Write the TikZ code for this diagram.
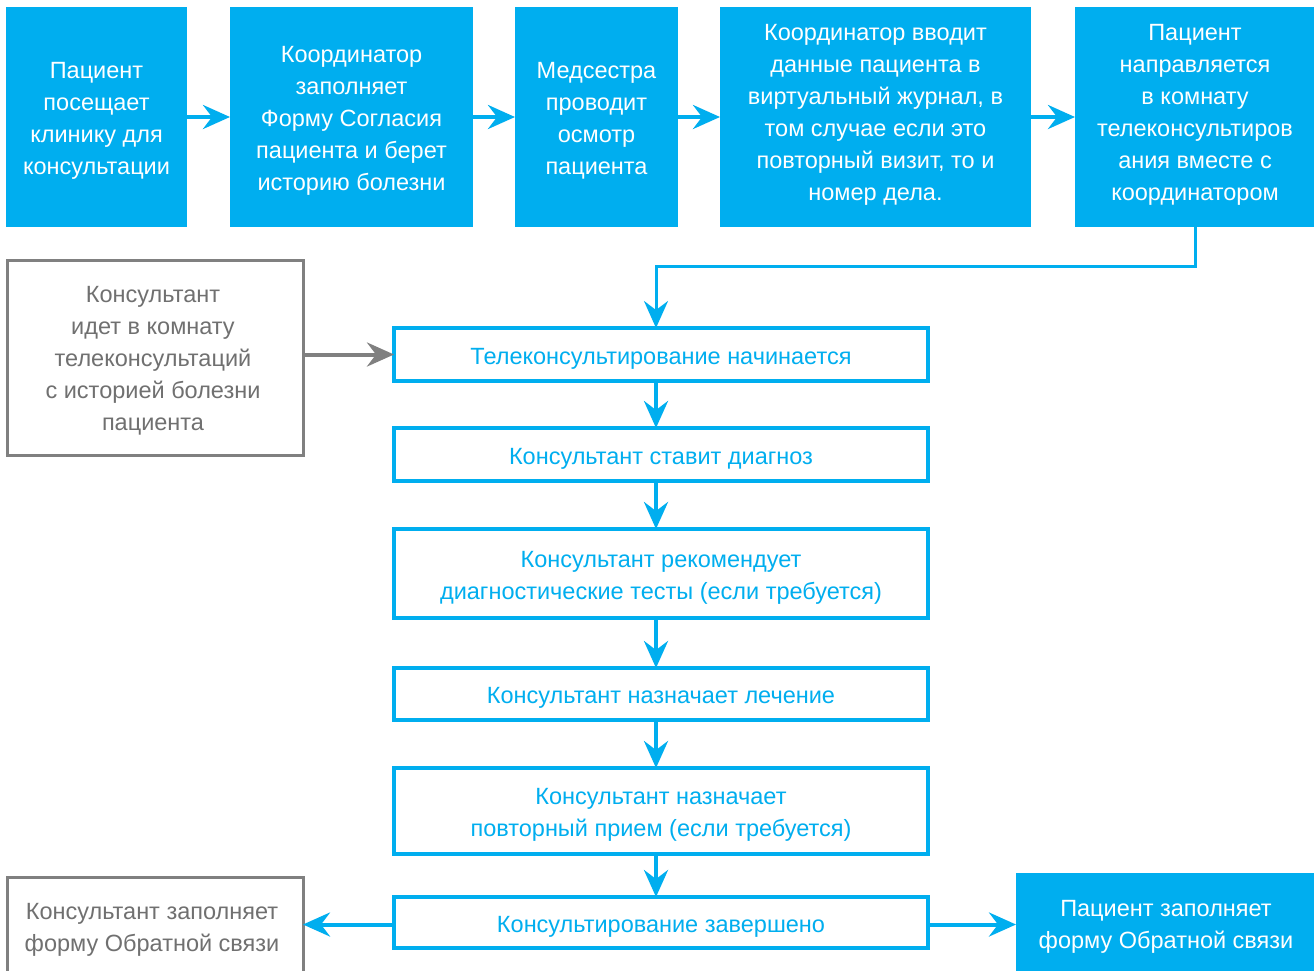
\documentclass[tikz,border=0pt]{standalone}
\usepackage{fontspec}
\setmainfont{Liberation Sans}
\usetikzlibrary{arrows.meta}
\definecolor{tblue}{HTML}{00AEEF}
\definecolor{tgray}{HTML}{808080}
\definecolor{tgtext}{HTML}{707070}
\begin{document}
\begin{tikzpicture}[x=1pt,y=-1pt,
  every node/.style={inner sep=0pt, outer sep=0pt, align=center, font=\fontsize{23.5}{32}\selectfont},
  topbox/.style={fill=tblue, minimum height=220pt},
  toptext/.style={text=white},
  flowbox/.style={draw=tblue, line width=3.5pt, fill=white, minimum width=534pt},
  flowtext/.style={text=tblue},
  graybox/.style={draw=tgray, line width=3pt, fill=white, minimum width=296pt},
  graytext/.style={text=tgtext},
  barrow/.style={draw=tblue, line width=4pt, -{Stealth[length=27pt,width=24pt,inset=9pt]}},
  garrow/.style={draw=tgray, line width=4pt, -{Stealth[length=27pt,width=24pt,inset=9pt]}}
]
\useasboundingbox (0,0) rectangle (1314,970);
\fill[white] (0,0) rectangle (1314,970);

% top row
\node[topbox, minimum width=181pt] (t1) at (96.5,117) {};
\node[topbox, minimum width=243pt] (t2) at (351.5,117) {};
\node[topbox, minimum width=163pt] (t3) at (596.5,117) {};
\node[topbox, minimum width=311pt] (t4) at (875.5,117) {};
\node[topbox, minimum width=250pt] (t5) at (1200,117) {};
\node[toptext] (t1t) at (96.5,121) {Пациент\\посещает\\клинику для\\консультации};
\node[toptext] (t2t) at (351.5,121) {Координатор\\заполняет\\Форму Согласия\\пациента и берет\\историю болезни};
\node[toptext] (t3t) at (596.5,121) {Медсестра\\проводит\\осмотр\\пациента};
\node[toptext] (t4t) at (875.5,115) {Координатор вводит\\данные пациента в\\виртуальный журнал, в\\том случае если это\\повторный визит, то и\\номер дела.};
\node[toptext] (t5t) at (1195,115) {Пациент\\направляется\\в комнату\\телеконсультиров\\ания вместе с\\координатором};

% flow column
\node[flowbox, minimum height=53pt] (b1) at (661,354.5) {};
\node[flowbox, minimum height=53pt] (b2) at (661,454.5) {};
\node[flowbox, minimum height=89pt] (b3) at (661,573.5) {};
\node[flowbox, minimum height=52pt] (b4) at (661,694) {};
\node[flowbox, minimum height=86pt] (b5) at (661,811) {};
\node[flowbox, minimum height=51pt] (b6) at (661,922.5) {};
\node[flowtext] (b1t) at ([yshift=-4pt]b1.center) {Телеконсультирование начинается};
\node[flowtext] (b2t) at ([yshift=-4pt]b2.center) {Консультант ставит диагноз};
\node[flowtext] (b3t) at ([yshift=-4pt]b3.center) {Консультант рекомендует\\диагностические тесты (если требуется)};
\node[flowtext] (b4t) at ([yshift=-4pt]b4.center) {Консультант назначает лечение};
\node[flowtext] (b5t) at ([yshift=-4pt]b5.center) {Консультант назначает\\повторный прием (если требуется)};
\node[flowtext] (b6t) at ([yshift=-4pt]b6.center) {Консультирование завершено};

% side boxes
\node[graybox, minimum height=195pt] (g1) at (155,357.5) {};
\node[graytext] (g1t) at (153,361) {Консультант\\идет в комнату\\телеконсультаций\\с историей болезни\\пациента};
\node[graybox, minimum height=110pt] (g2) at (155,932) {};
\node[graytext] (g2t) at (152,930) {Консультант заполняет\\форму Обратной связи};
\node[fill=tblue, minimum width=310pt, minimum height=110pt] (p2) at (1171,928) {};
\node[toptext] (p2t) at (1166,927) {Пациент заполняет\\форму Обратной связи};

% top arrows
\draw[barrow] (t1.east) -- (t2.west);
\draw[barrow] (t2.east) -- (t3.west);
\draw[barrow] (t3.east) -- (t4.west);
\draw[barrow] (t4.east) -- (t4.east -| t5.west);
\draw[barrow, line width=3pt] (t5.south -| 1195,0) -- (1195,266) -| ([xshift=-5pt]b1.north);

% column arrows
\draw[barrow] ([xshift=-5pt]b1.south) -- ([xshift=-5pt]b2.north);
\draw[barrow] ([xshift=-5pt]b2.south) -- ([xshift=-5pt]b3.north);
\draw[barrow] ([xshift=-5pt]b3.south) -- ([xshift=-5pt]b4.north);
\draw[barrow] ([xshift=-5pt]b4.south) -- ([xshift=-5pt]b5.north);
\draw[barrow] ([xshift=-5pt]b5.south) -- ([xshift=-5pt]b6.north);

% side arrows
\draw[garrow] (b1.west -| g1.east) -- (b1.west);
\draw[barrow] ([yshift=-2pt]b6.west) -- ([yshift=-2pt]b6.west -| g2.east);
\draw[barrow] ([yshift=-2pt]b6.east) -- ([yshift=-2pt]b6.east -| p2.west);
\end{tikzpicture}
\end{document}
